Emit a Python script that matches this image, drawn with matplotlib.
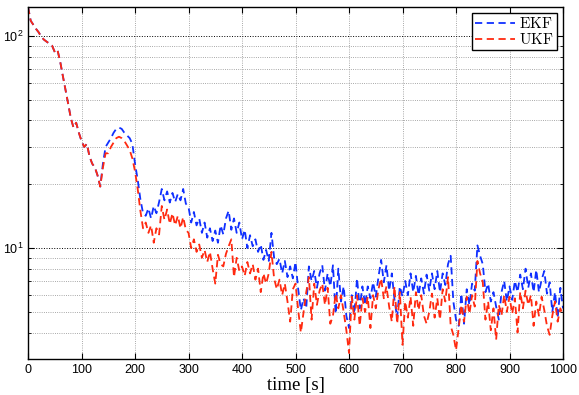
import numpy as np
import matplotlib
matplotlib.use('Agg')
import matplotlib.pyplot as plt
from matplotlib.ticker import LogLocator, NullFormatter, MultipleLocator

plt.rcParams['font.family'] = ['Liberation Sans', 'DejaVu Sans']
plt.rcParams['mathtext.fontset'] = 'cm'

# time axis, one sample every 5 s
t = np.arange(0, 1001, 5)

# EKF error
ekf = [
    137, 118, 113, 108, 104, 99, 96, 94, 92, 90,
    84, 86, 76, 65, 56, 48, 41, 37, 39, 35,
    32, 30, 31, 27, 25, 24, 22, 19.5, 25, 30,
    31.5, 33, 35, 36.5, 37, 36.5, 35, 34, 33, 31,
    25, 21, 17, 14.6, 14.2, 15.4, 13.8, 15.8, 14.6, 16.5,
    19, 16.8, 18.5, 16.4, 18.2, 16.5, 18, 16.8, 19, 16.2,
    15.6, 13.2, 14.8, 12.8, 13.8, 11.8, 13.2, 11.2, 12.4, 10.8,
    12.1, 10.6, 12.8, 11.6, 13.8, 15, 12.2, 13.8, 11.8, 13.2,
    11, 12.2, 10, 11.5, 10.2, 11, 9.6, 10.4, 8.8, 9.8,
    8.7, 11.8, 9, 8.4, 8.9, 7.6, 8.7, 7.3, 8.2, 7.2,
    8.6, 6.4, 5.1, 5.8, 5.2, 8.2, 7, 7.8, 6.5, 7.6,
    8.3, 6.3, 7.6, 6.6, 8.3, 4.9, 8, 5.6, 6.6, 4.8,
    4.2, 6, 4.9, 7.2, 5.2, 6.6, 5.4, 6.6, 5.8, 6.9,
    5.9, 7.3, 8.8, 6.9, 8.3, 6.3, 7.6, 5.7, 4.7, 6.6,
    5.9, 7, 6, 7.6, 6.2, 7.4, 6, 7.2, 6.1, 7.5,
    6.3, 7.6, 6.4, 7.8, 6.2, 7.6, 6.7, 8.4, 9.2, 5.6,
    4.6, 4.3, 6.1, 4.4, 6.4, 5.4, 6.8, 6.3, 10.3, 9.2,
    8.4, 6.2, 6.8, 5.6, 6.2, 5.3, 4.6, 6.2, 7, 5.6,
    6.6, 5.7, 7, 6.2, 7.5, 6.4, 8, 6.5, 7.6, 6.2,
    7.9, 6.2, 7.1, 7.8, 6.1, 6.9, 5, 6.2, 4.7, 6.5,
    5.2,
]

# UKF error
ukf = [
    137, 118, 113, 108, 104, 99, 96, 94, 92, 90,
    84, 86, 76, 65, 56, 48, 41, 37, 39, 35,
    32, 30, 31, 27, 25, 24, 22, 19.5, 24, 28,
    28, 30, 31.5, 33, 33.5, 33, 32, 30.5, 29, 26.5,
    23, 19, 15, 12.4, 13.2, 11.8, 12.8, 10.6, 12.4, 11.6,
    15.8, 13.6, 15.2, 13, 14.6, 12.8, 14.2, 12.4, 14, 12.2,
    11.8, 10, 11, 9.6, 10.4, 9, 9.8, 8.6, 9.6, 8,
    6.8, 9.3, 8.4, 8.2, 9.4, 10.2, 11, 7.3, 9, 7.8,
    8.2, 7.4, 8.6, 7.6, 8.4, 7.1, 8, 6.2, 7.6, 6.8,
    7.6, 9.6, 7.2, 6.4, 7.1, 6, 6.8, 5.6, 4.5, 6.4,
    6.8, 5.1, 4, 5, 6.2, 7.3, 4.6, 6.8, 5.4, 6.3,
    6.8, 5.4, 6.5, 4.4, 4.8, 6.1, 5.2, 6, 5, 4.1,
    3.2, 5.9, 4.6, 6, 4.3, 5.8, 5, 5.9, 4.2, 6,
    5.2, 6.4, 7.2, 5.8, 6.6, 5.3, 4.5, 6.6, 4.4, 6.2,
    3.5, 5.6, 4.7, 5.9, 4.3, 6.2, 5.1, 6, 4.8, 4.4,
    5, 6.1, 4.7, 5.8, 4.6, 6.4, 5.6, 7.3, 4.3, 3.9,
    3.3, 4.2, 5.4, 4.5, 5.9, 4.9, 6, 5.3, 8.7, 7.6,
    6.9, 4.6, 5.6, 4.1, 5.2, 3.7, 5.4, 4.8, 6, 5,
    5.9, 4.9, 5.8, 4.0, 6.2, 5.2, 6.3, 5.4, 6, 4.3,
    5.6, 4.8, 5.9, 5.1, 4.3, 3.9, 4.8, 5.6, 4.5, 5.2,
    4.8,
]

fig = plt.figure(figsize=(5.79, 3.95), dpi=100)
ax = fig.add_axes([0.0484, 0.0911, 0.924, 0.8912])

ax.plot(t, ekf, color='#1030ff', lw=1.3, dashes=(4, 2.5), label=r'$\mathrm{EKF}$')
ax.plot(t, ukf, color='#ff2a10', lw=1.3, dashes=(4, 2.5), label=r'$\mathrm{UKF}$')

ax.set_yscale('log')
ax.set_xlim(0, 1000)
ax.set_ylim(3, 137)
ax.xaxis.set_major_locator(MultipleLocator(100))
ax.yaxis.set_minor_locator(LogLocator(base=10, subs=np.arange(2, 10)))
ax.yaxis.set_minor_formatter(NullFormatter())

ax.grid(True, which='major', axis='y', color='black', linestyle=':', lw=0.7)
ax.grid(True, which='minor', axis='y', color='0.55', linestyle=':', lw=0.6)
ax.grid(True, which='major', axis='x', color='0.55', linestyle=':', lw=0.6)

ax.tick_params(which='both', direction='in', top=True, right=True, labelsize=9)
ax.tick_params(which='major', length=4)
ax.tick_params(which='minor', length=2)
for s in ax.spines.values():
    s.set_linewidth(1.0)

# label centred a bit below the tick labels, like the MATLAB original
ax.set_xlabel('time [s]', family='Liberation Serif', fontsize=13.5, va='center')
ax.xaxis.set_label_coords(0.5, -0.075)

leg = ax.legend(loc='upper right', fontsize=11, fancybox=False, framealpha=1,
                edgecolor='black', handlelength=2.6, borderpad=0.2,
                labelspacing=0.05, handletextpad=0.3, borderaxespad=0.4)
leg.get_frame().set_linewidth(1.0)

fig.savefig('out.png', dpi=100)
